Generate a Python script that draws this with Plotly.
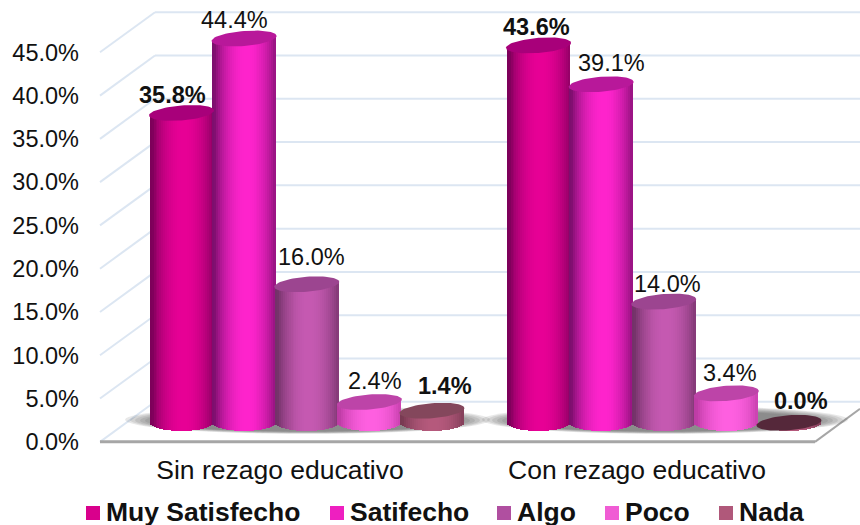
import numpy as np
import plotly.graph_objects as go

CATEGORIES = ["Sin rezago educativo", "Con rezago educativo"]
SERIES = ["Muy Satisfecho", "Satifecho", "Algo", "Poco", "Nada"]
MUY_SATISFECHO = [35.8, 43.6]
SATIFECHO = [44.4, 39.1]
ALGO = [16.0, 14.0]
POCO = [2.4, 3.4]
NADA = [1.4, 0.0]
VALUES = [MUY_SATISFECHO, SATIFECHO, ALGO, POCO, NADA]
Y_TICKS = [0, 5, 10, 15, 20, 25, 30, 35, 40, 45]

# which labels are bold in the original
BOLD = [[True, True], [False, False], [False, False], [False, False], [True, True]]

# styling: (legend, body centre, body edge, top ellipse)
COLORS = [
    ("#d9008c", (232, 0, 150), (125, 0, 90), "#a8007a"),
    ("#ee1fc0", (255, 36, 205), (125, 15, 110), "#b8189a"),
    ("#b04fa0", (198, 90, 178), (115, 50, 105), "#9c4590"),
    ("#f05cd4", (255, 96, 225), (190, 60, 165), "#bd44a8"),
    ("#b0587a", (182, 90, 125), (120, 58, 82), "#84475c"),
]
ZERO_TOP = "#55283a"
LABEL_DX = [[-9, -2], [-10, 10], [5, 4], [6, 4], [13, 12]]
LABEL_DY = [[18, 18], [18, 21], [27, 18], [21, 20], [25, 22]]
LEGEND_X = [86, 330, 497, 605, 719]

# x axis runs in screen pixels, y axis in percent on the front plane
PX_PER_PCT = 8.64
BACK_DX = 55
BACK_LIFT = 40 / PX_PER_PCT
BAR_LIFT = 19 / PX_PER_PCT
BAR_W = 63
GROUP_LEFT = [150, 507]
FONT = "Liberation Sans"
GRID = "#dce6f2"
FLOOR = "#a6a6a6"
ELL_B = 7.5
TILT = 2.5
# height the plot area really gets on the page
PAPER_H = 521

fig = go.Figure()
shapes = []


def line(x0, y0, x1, y1, color, width):
    shapes.append(dict(type="line", xref="x", yref="y", x0=x0, y0=y0, x1=x1, y1=y1,
                       layer="below", line=dict(color=color, width=width)))


# back wall and left side
for v in Y_TICKS:
    line(155, v + BACK_LIFT, 860, v + BACK_LIFT, GRID, 2)
    line(100, v, 155, v + BACK_LIFT, GRID, 2)

# floor
line(100, 0, 815, 0, FLOOR, 3)
line(815, 0, 860, 33 / PX_PER_PCT, FLOOR, 2)

# soft shadow behind the bars
for left, right in [(125, 490), (482, 848)]:
    for k in range(7):
        shapes.append(dict(type="circle", xref="x", yref="y", layer="below",
                           x0=left + k * 5, x1=right - k * 5,
                           y0=(8 + k * 0.4) / PX_PER_PCT, y1=(36 - k * 0.8) / PX_PER_PCT,
                           fillcolor="#444444", opacity=0.12, line=dict(width=0)))

# cylinders are built from narrow upright strips, shaded from edge to centre
n_strips = 32
for s, values in enumerate(VALUES):
    legend_c, center_c, edge_c, top_c = COLORS[s]
    xs, bases, heights, cols = [], [], [], []
    for g, v in enumerate(values):
        left = GROUP_LEFT[g] + s * (BAR_W - 0.4)
        for i in range(n_strips):
            t = (i + 0.5) / n_strips * 2 - 1
            light = max(0, 1 - (t - 0.08) ** 2) ** 0.9
            rgb = [int(e + (c - e) * light) for c, e in zip(center_c, edge_c)]
            base = BAR_LIFT - 8 * np.sqrt(1 - t * t) / PX_PER_PCT
            xs.append(left + (t + 1) / 2 * BAR_W)
            bases.append(base)
            heights.append(v + BAR_LIFT + TILT * t / PX_PER_PCT - base)
            cols.append("rgb(%d,%d,%d)" % tuple(rgb))
    fig.add_trace(go.Bar(x=xs, y=heights, base=bases, width=BAR_W / n_strips + 0.8,
                         name=SERIES[s], marker=dict(color=cols, line=dict(width=0)),
                         showlegend=False, hoverinfo="skip"))

# cylinder tops
theta = np.linspace(0, 2 * np.pi, 73)
for s, values in enumerate(VALUES):
    for g, v in enumerate(values):
        left = GROUP_LEFT[g] + s * (BAR_W - 0.4)
        cx = left + BAR_W / 2
        ex = cx + (BAR_W / 2 + 1) * np.cos(theta)
        ey = v + BAR_LIFT + (ELL_B * np.sin(theta) + TILT * np.cos(theta)) / PX_PER_PCT
        fig.add_trace(go.Scatter(x=ex, y=ey, mode="lines", fill="toself",
                                 fillcolor=COLORS[s][3] if v > 0 else ZERO_TOP,
                                 line=dict(width=0), showlegend=False, hoverinfo="skip"))

annotations = []
for s, values in enumerate(VALUES):
    for g, v in enumerate(values):
        left = GROUP_LEFT[g] + s * (BAR_W - 0.4)
        text = f"{v:.1f}%"
        annotations.append(dict(x=left + BAR_W / 2, y=v + BAR_LIFT, xref="x", yref="y",
                                text=f"<b>{text}</b>" if BOLD[s][g] else text,
                                showarrow=False, xshift=LABEL_DX[s][g], yshift=LABEL_DY[s][g],
                                font=dict(family=FONT, size=23.5, color="#111111")))

# legend row: plotly's own legend pushes the plot area up, so it is laid out by hand
for s, name in enumerate(SERIES):
    lx = LEGEND_X[s]
    shapes.append(dict(type="rect", xref="paper", yref="paper", x0=lx / 860, x1=(lx + 14) / 860,
                       y0=(PAPER_H - 519) / PAPER_H, y1=(PAPER_H - 505) / PAPER_H,
                       fillcolor=COLORS[s][0], line=dict(width=0)))
    annotations.append(dict(x=(lx + 18) / 860, y=(PAPER_H - 511) / PAPER_H, xref="paper", yref="paper",
                            text=f"<b>{name}</b>", showarrow=False, xanchor="left", yanchor="middle",
                            font=dict(family=FONT, size=26.5, color="#111111")))

group_centers = [GROUP_LEFT[0] + 130, GROUP_LEFT[1] + 130]

fig.update_layout(
    width=860,
    height=525,
    margin=dict(l=0, r=0, t=0, b=0),
    paper_bgcolor="white",
    plot_bgcolor="white",
    barmode="overlay",
    bargap=0,
    showlegend=False,
    font=dict(family=FONT, size=23.5, color="#111111"),
    shapes=shapes,
    annotations=annotations,
    xaxis=dict(domain=[95 / 860, 1], range=[95, 860], tickvals=group_centers, ticktext=CATEGORIES,
               showgrid=False, zeroline=False, showline=False, ticks="", ticklabelstandoff=0,
               tickangle=0, tickfont=dict(size=26.5)),
    yaxis=dict(domain=[(PAPER_H - 451) / PAPER_H, 1], range=[-10 / PX_PER_PCT, 441 / PX_PER_PCT],
               tickvals=Y_TICKS, ticktext=[f"{v:.1f}%" for v in Y_TICKS], showgrid=False,
               zeroline=False, showline=False, ticks="", ticklabelstandoff=15),
)

fig.write_html("out.html", config={"displayModeBar": False},
               post_script="document.body.style.margin = '0';")
